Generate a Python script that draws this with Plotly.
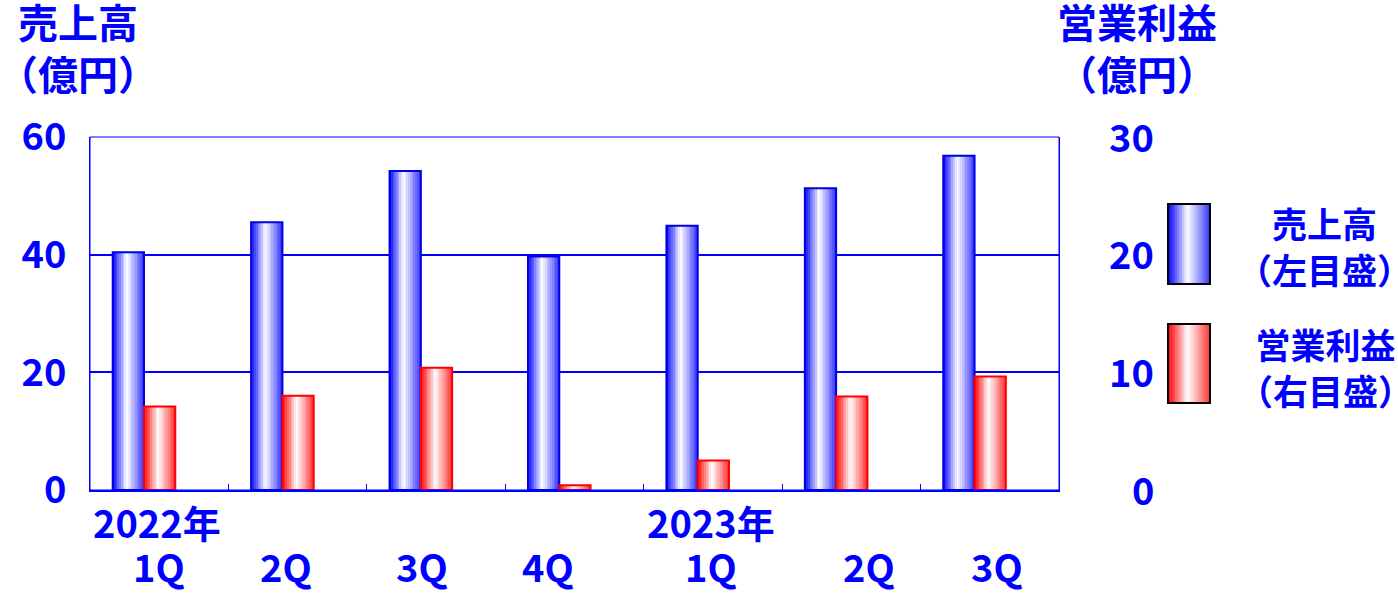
import plotly.graph_objects as go

# ---------------- data ----------------
quarters = ["1Q", "2Q", "3Q", "4Q", "1Q", "2Q", "3Q"]
years = ["2022年", "", "", "", "2023年", "", ""]
sales = [40.4, 45.5, 54.2, 39.7, 44.9, 51.3, 56.8]          # 売上高 (億円, left axis)
op_profit = [7.1, 8.0, 10.4, 0.4, 2.5, 7.95, 9.65]         # 営業利益 (億円, right axis)
left_ticks = [0, 20, 40, 60]
right_ticks = [0, 10, 20, 30]

# ---------------- styling ----------------
BLUE = "#0000FF"
FONT = "Noto Sans CJK JP"
W, H = 1398, 593
ML, MR, MT, MB = 90, 339, 137, 103
PW = W - ML - MR
PH = H - MT - MB

x = list(range(len(sales)))


def px2x(px):
    return (px - ML) / PW


def py2y(py):
    return (H - MB - py) / PH


def profile(t):
    # intensity of colour across a bar: strong at left, white near middle, medium at right
    c = 0.45
    if t < c:
        return ((c - t) / c) ** 0.9
    return 0.8 * ((t - c) / (1 - c)) ** 1.1


def mix(rgb, a):
    r, g, b = rgb
    return "rgb(%d,%d,%d)" % (round(255 + (r - 255) * a), round(255 + (g - 255) * a), round(255 + (b - 255) * a))


N = 18
fig = go.Figure()


def gradient_bars(vals, yaxis, off, width, rgb, line_color):
    sw = width / N
    for k in range(N):
        t = (k + 0.5) / N
        fig.add_trace(go.Bar(
            x=x, y=vals, yaxis=yaxis, offset=off + k * sw, width=sw * 1.08,
            marker=dict(color=mix(rgb, profile(t)), line=dict(width=0)),
            showlegend=False, hoverinfo="skip"))
    fig.add_trace(go.Bar(
        x=x, y=vals, yaxis=yaxis, offset=off, width=width,
        marker=dict(color="rgba(0,0,0,0)", line=dict(color=line_color, width=2)),
        showlegend=False))


BW = 0.226
gradient_bars(sales, "y", -0.336, BW, (0, 0, 255), "#0000E0")
gradient_bars(op_profit, "y2", -0.11, BW, (255, 0, 0), "#FF0000")

tickfont = dict(family=FONT, size=38, color=BLUE, weight="bold")

fig.update_layout(
    width=W, height=H,
    margin=dict(l=ML, r=MR, t=MT, b=MB),
    paper_bgcolor="white", plot_bgcolor="white",
    barmode="overlay",
    showlegend=False,
    xaxis=dict(range=[-0.5, len(x) - 0.5], tickvals=[i + 0.5 for i in x[:-1]],
               showticklabels=False, ticks="inside", ticklen=6, tickcolor=BLUE, tickwidth=1,
               showline=True, linecolor=BLUE, linewidth=2, showgrid=False, zeroline=False),
    yaxis=dict(range=[0, 60], tickvals=left_ticks, showgrid=True, gridcolor=BLUE, gridwidth=2,
               showline=True, linecolor=BLUE, linewidth=1, zeroline=False,
               ticks="", tickfont=tickfont, ticklabelstandoff=15),
    yaxis2=dict(range=[0, 30], overlaying="y", side="right", tickvals=right_ticks,
                showticklabels=False, showgrid=False, zeroline=False,
                showline=True, linecolor=BLUE, linewidth=1),
)

# plot frame
fig.add_shape(type="rect", xref="paper", yref="paper", x0=0, x1=1, y0=0, y1=1,
              line=dict(color=BLUE, width=1), layer="above")

# right-axis tick labels (right-aligned)
for v in right_ticks:
    fig.add_annotation(x=1, xref="paper", y=v, yref="y2", text=str(v), showarrow=False,
                       xanchor="right", yanchor="middle", xshift=97, yshift=2, font=tickfont)

# x category labels
q_shift = [0, -12, -14, -27, -2, 18, 7]
for i, q in enumerate(quarters):
    fig.add_annotation(x=x[i], xref="x", y=0, yref="paper", text=q, showarrow=False,
                       xanchor="center", yanchor="middle", xshift=q_shift[i], yshift=-75,
                       font=tickfont)
for i, yr in enumerate(years):
    if yr:
        fig.add_annotation(x=x[i], xref="x", y=0, yref="paper", text=yr, showarrow=False,
                           xanchor="center", yanchor="middle", xshift=-2, yshift=-31,
                           font=tickfont)

# axis titles
titlefont = dict(family=FONT, size=40, color=BLUE, weight="bold")
fig.add_annotation(x=px2x(78), xref="paper", y=py2y(47), yref="paper", text="売上高<br>（億円）",
                   showarrow=False, xanchor="center", yanchor="middle", align="center", font=titlefont)
fig.add_annotation(x=px2x(1137), xref="paper", y=py2y(47), yref="paper",
                   text="営業利益<br>（億円）", showarrow=False, xanchor="center", yanchor="middle",
                   align="center", font=titlefont)

# legend swatches (gradient boxes) and labels
legfont = dict(family=FONT, size=35, color=BLUE, weight="bold")


def swatch(x0, x1, y0, y1, rgb):
    sw = (x1 - x0) / N
    for k in range(N):
        t = (k + 0.5) / N
        fig.add_shape(type="rect", xref="paper", yref="paper",
                      x0=px2x(x0 + k * sw), x1=px2x(x0 + (k + 1) * sw + 0.6),
                      y0=py2y(y1), y1=py2y(y0), line=dict(width=0),
                      fillcolor=mix(rgb, profile(t)))
    fig.add_shape(type="rect", xref="paper", yref="paper", x0=px2x(x0), x1=px2x(x1),
                  y0=py2y(y1), y1=py2y(y0), line=dict(color="black", width=2))


swatch(1168, 1210, 204, 284, (0, 0, 255))
swatch(1168, 1210, 324, 403, (255, 0, 0))
fig.add_annotation(x=px2x(1324), xref="paper", y=py2y(245), yref="paper",
                   text="売上高<br>（左目盛）", showarrow=False, xanchor="center", yanchor="middle",
                   align="center", font=legfont)
fig.add_annotation(x=px2x(1325), xref="paper", y=py2y(366), yref="paper",
                   text="営業利益<br>（右目盛）", showarrow=False, xanchor="center", yanchor="middle",
                   align="center", font=legfont)

fig.write_html("out.html")
